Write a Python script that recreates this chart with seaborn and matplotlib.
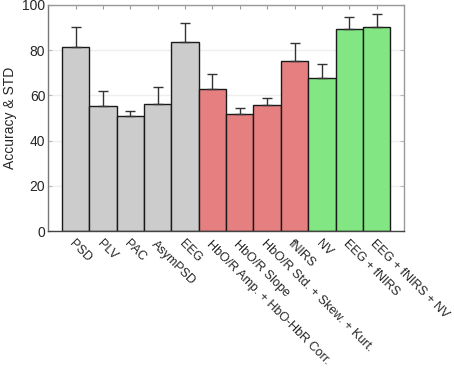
import matplotlib
matplotlib.use("Agg")
import matplotlib.pyplot as plt
import numpy as np
import pandas as pd
import seaborn as sns

labels = ["PSD", "PLV", "PAC", "AsymPSD", "EEG",
          "HbO/R Amp. + HbO-HbR Corr.", "HbO/R Slope",
          "HbO/R Std. + Skew. + Kurt.", "fNIRS", "NV",
          "EEG + fNIRS", "EEG + fNIRS + NV"]
accuracy = [81.2, 55.5, 51.1, 56.0, 83.7, 63.0, 51.6, 55.7, 75.3, 67.7, 89.3, 90.0]
std = [9.0, 6.6, 1.9, 7.5, 8.4, 6.3, 3.0, 3.1, 7.9, 6.3, 5.5, 5.8]
group = ["EEG"] * 5 + ["fNIRS"] * 4 + ["Hybrid"] * 3
palette = {"EEG": "#cccccc", "fNIRS": "#e67f7f", "Hybrid": "#82e682"}

df = pd.DataFrame({"label": labels, "acc": accuracy, "std": std, "group": group})

sns.set_style("white")
plt.rcParams["font.family"] = ["Liberation Sans", "DejaVu Sans"]

fig = plt.figure(figsize=(4.54, 3.74), dpi=100)
ax = fig.add_axes([0.106, 0.382, 0.784, 0.605])

sns.barplot(data=df, x="label", y="acc", hue="group", palette=palette,
            dodge=False, width=1.0, saturation=1.0, edgecolor="#1a1a1a",
            linewidth=1.0, legend=False, ax=ax, zorder=2)

x = np.arange(len(labels))
ax.errorbar(x, df["acc"], yerr=[np.zeros(len(x)), df["std"]], fmt="none",
            ecolor="#333333", elinewidth=1.0, capsize=3.5, capthick=1.0, zorder=3)

ax.set_xlim(-1, len(labels))
ax.set_ylim(0, 100)
ax.set_yticks([0, 20, 40, 60, 80, 100])
ax.yaxis.grid(True, color="#efefef", linewidth=1.0, zorder=0)
ax.set_axisbelow(True)

ax.set_xlabel("")
ax.set_ylabel("Accuracy & STD", fontsize=10, labelpad=4)
ax.set_xticks(x)
ax.set_xticklabels(labels, rotation=-45, ha="left", rotation_mode="anchor", fontsize=9)
ax.tick_params(axis="y", labelsize=10, direction="in", length=3, color="#bbbbbb",
               right=True, left=True, pad=2)
ax.tick_params(axis="x", direction="in", length=3, color="#999999",
               top=True, bottom=False, pad=5)
for s in ax.spines.values():
    s.set_color("#999999")
    s.set_linewidth(1.0)
ax.spines["left"].set_color("#777777")
ax.spines["bottom"].set_color("#444444")

fig.savefig("out.png", dpi=100)
